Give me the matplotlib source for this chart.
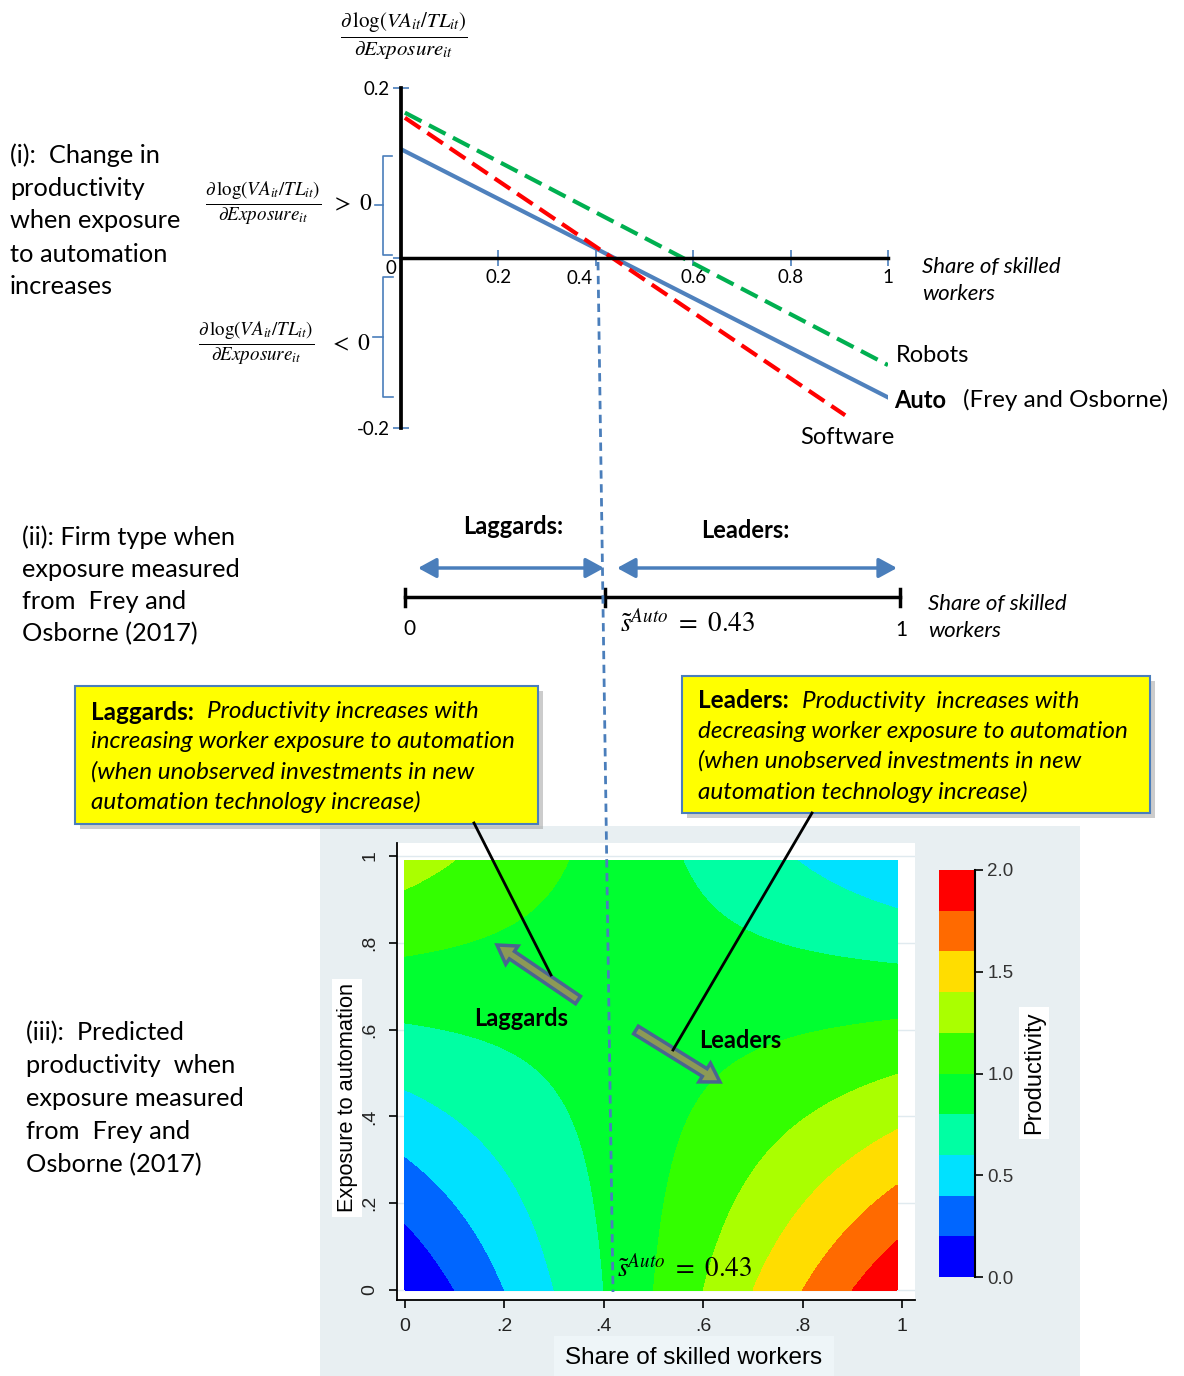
import numpy as np
import matplotlib.pyplot as plt
from matplotlib.patches import Rectangle, FancyArrow

W, H = 1184, 1376
plt.rcParams['mathtext.fontset'] = 'stix'
body = 'Lato'
arial = 'Liberation Sans'

# panel (i): effect of exposure on productivity vs share of skilled workers
auto_x = [0.0, 1.0]
auto_y = [0.128, -0.164]
robots_x = [0.008, 1.0]
robots_y = [0.171, -0.126]
software_x = [0.008, 0.912]
software_y = [0.165, -0.185]
p1_xticks = [0.2, 0.4, 0.6, 0.8, 1.0]
p1_xticklabels = ['0.2', '', '0.6', '0.8', '1']
p1_yticks = [-0.2, 0.0, 0.2]
p1_yticklabels = ['-0.2', '', '0.2']

# panel (iii): predicted productivity surface (linear model with interaction)
coef_const = 0.0
coef_skill = 2.0
coef_expo = 1.3
coef_inter = -2.9
prod_levels = [0.0, 0.2, 0.4, 0.6, 0.8, 1.0, 1.2, 1.4, 1.6, 1.8, 2.0]
prod_colors = ['#0000ff', '#0066ff', '#00e1ff', '#00ffa3', '#00ff30',
               '#33ff00', '#aaff00', '#ffdd00', '#ff6a00', '#ff0000']
cbar_ticks = [0.0, 0.5, 1.0, 1.5, 2.0]
cbar_ticklabels = ['0.0', '0.5', '1.0', '1.5', '2.0']
p3_ticks = [0, 0.2, 0.4, 0.6, 0.8, 1.0]
p3_ticklabels = ['0', '.2', '.4', '.6', '.8', '1']

frac = r'$\frac{\partial\,\log(VA_{it}/TL_{it})}{\partial Exposure_{it}}$'
s_label = r'$\tilde{s}^{Auto}\ =\ 0.43$'


def box(l, t, r, b):
    return [l / W, 1 - b / H, (r - l) / W, (b - t) / H]


fig = plt.figure(figsize=(W / 100, H / 100), dpi=100)

# background layer (pixel coords)
bg = fig.add_axes([0, 0, 1, 1], zorder=-5)
bg.set_xlim(0, W)
bg.set_ylim(H, 0)
bg.axis('off')
bg.add_patch(Rectangle((320, 826), 760, 550, fc='#e8eff2', ec='none'))

# ---- panel (i)
ax1 = fig.add_axes(box(401, 88, 888, 428))
ax1.set_xlim(0, 1)
ax1.set_ylim(-0.2, 0.2)
ax1.patch.set_alpha(0)
ax1.plot(auto_x, auto_y, color='#4f81bd', lw=3)
ax1.plot(robots_x, robots_y, color='#00b050', lw=3, ls=(0, (4.5, 2)))
ax1.plot(software_x, software_y, color='#ff0000', lw=3, ls=(0, (4.5, 2)))
for s in ['top', 'right']:
    ax1.spines[s].set_visible(False)
ax1.spines['bottom'].set_position(('data', 0))
ax1.spines['left'].set_linewidth(2.7)
ax1.spines['bottom'].set_linewidth(2.5)
ax1.set_xticks(p1_xticks, p1_xticklabels, fontfamily=body, fontsize=13.5)
ax1.set_yticks(p1_yticks, p1_yticklabels, fontfamily=body, fontsize=13.5)
ax1.tick_params(direction='inout', length=12, width=1.2, color='#4a7ebb', pad=2)

# ---- panel (iii) contour
ax3 = fig.add_axes(box(396.5, 843, 914.5, 1300))
ax3.set_xlim(-0.017, 1.025)
ax3.set_ylim(-0.023, 1.03)
sg = np.linspace(0, 0.99, 400)
eg = np.linspace(0, 0.99, 400)
S, E = np.meshgrid(sg, eg)
Z = coef_const + coef_skill * S + coef_expo * E + coef_inter * S * E
cf = ax3.contourf(S, E, Z, levels=prod_levels, colors=prod_colors)
for s in ['top', 'right']:
    ax3.spines[s].set_visible(False)
for s in ['left', 'bottom']:
    ax3.spines[s].set_linewidth(1.3)
ax3.set_axisbelow(True)
ax3.yaxis.grid(True, color='#e0eaef', lw=1)
ax3.set_xticks(p3_ticks, p3_ticklabels, fontfamily=arial, fontsize=14, color='#222')
ax3.set_yticks(p3_ticks, p3_ticklabels, fontfamily=arial, fontsize=14, color='#222',
               rotation=90, va='center')
ax3.tick_params(length=6, width=1.2, pad=7)

cax = fig.add_axes(box(939, 870, 975, 1277))
cb = fig.colorbar(cf, cax=cax, ticks=cbar_ticks)
cb.outline.set_visible(False)
cax.set_yticklabels(cbar_ticklabels, fontfamily=arial, fontsize=13.5, color='#333')
cax.tick_params(length=6, width=1.2, pad=3)
cax.axvline(1, color='black', lw=1.5, clip_on=False)

# ---- overlay (pixel coords)
ov = fig.add_axes([0, 0, 1, 1], zorder=10)
ov.set_xlim(0, W)
ov.set_ylim(H, 0)
ov.axis('off')


def lines(x, y0, dy, texts, **kw):
    for i, t in enumerate(texts):
        ov.text(x, y0 + i * dy, t, va='center_baseline', **kw)


# panel (i) texts
ov.text(404, 36, frac, fontsize=21.5, ha='center', va='center')
ov.text(263, 203, frac, fontsize=19.5, ha='center', va='center')
ov.text(331, 203, r'$>\ 0$', fontsize=17, ha='left', va='center')
ov.text(256, 343, frac, fontsize=19.5, ha='center', va='center')
ov.text(329, 343, r'$<\ 0$', fontsize=17, ha='left', va='center')
blue = '#4a7ebb'
ov.plot([392, 383, 383, 392], [156, 156, 255, 255], color=blue, lw=1.2)
ov.plot([375, 383], [205, 205], color=blue, lw=1.2)
ov.plot([393, 383, 383, 393], [277, 277, 397, 397], color=blue, lw=1.2)
ov.plot([373, 383], [337, 337], color=blue, lw=1.2)
ov.text(391, 268, '0', fontfamily=body, fontsize=13.5, ha='center', va='center')
ov.text(580, 279, '0.4', fontfamily=body, fontsize=13.5, ha='center', va='center')
lines(10, 153, 33, ['(i):  Change in', 'productivity', 'when exposure',
                    'to automation', 'increases'], fontfamily=body, fontsize=18.3)
lines(922, 265, 27, ['Share of skilled', 'workers'], fontfamily=body,
      fontsize=16, style='italic')
ov.text(896, 355, 'Robots', fontfamily=body, fontsize=17, va='center')
ov.text(894, 400, 'Auto', fontfamily=body, fontsize=17, va='center', weight='bold')
ov.text(963, 400, '(Frey and Osborne)', fontfamily=body, fontsize=17.5, va='center')
ov.text(800, 437, 'Software', fontfamily=body, fontsize=17, va='center')

# panel (ii)
ov.plot([405, 900], [597, 597], color='black', lw=2.5)
for xp in [405, 605, 900]:
    ov.plot([xp, xp], [589, 606], color='black', lw=2.5)
for x0, x1 in [(418, 604), (617, 897)]:
    ov.annotate('', xy=(x0, 568), xytext=(x1, 568),
                arrowprops=dict(arrowstyle='<|-|>,head_length=0.55,head_width=0.3',
                                color=blue, lw=2.5, shrinkA=0, shrinkB=0,
                                mutation_scale=20))
ov.text(513, 527, 'Laggards:', fontfamily=body, fontsize=17, weight='bold',
        ha='center', va='center')
ov.text(745, 530, 'Leaders:', fontfamily=body, fontsize=17, weight='bold',
        ha='center', va='center')
ov.text(409, 629, '0', fontfamily=body, fontsize=15, ha='center', va='center')
ov.text(901, 630, '1', fontfamily=body, fontsize=15, ha='center', va='center')
ov.text(620, 623, s_label, fontsize=19.5, ha='left', va='center')
lines(928, 602, 27, ['Share of skilled', 'workers'], fontfamily=body,
      fontsize=16, style='italic')
lines(22, 535, 32.3, ['(ii): Firm type when', 'exposure measured',
                      'from  Frey and', 'Osborne (2017)'], fontfamily=body, fontsize=18.3)

# vertical threshold line
ov.plot([598, 613], [262, 1292], color=blue, lw=2, ls=(0, (3, 2)))

# callout boxes
ov.add_patch(Rectangle((80, 691), 463, 138, fc='#9a9a9a', ec='none', alpha=0.5))
ov.add_patch(Rectangle((75, 686), 463, 138, fc='#ffff00', ec=blue, lw=1.5))
ov.add_patch(Rectangle((687, 681), 468, 137, fc='#9a9a9a', ec='none', alpha=0.5))
ov.add_patch(Rectangle((682, 676), 468, 137, fc='#ffff00', ec=blue, lw=1.5))
ov.text(91, 710, 'Laggards:', fontfamily=body, fontsize=17.5, weight='bold', va='center_baseline')
ov.text(207, 710, 'Productivity increases with', fontfamily=body, fontsize=17.5,
        style='italic', va='center_baseline')
lines(91, 740, 30, ['increasing worker exposure to automation',
                    '(when unobserved investments in new',
                    'automation technology increase)'],
      fontfamily=body, fontsize=17.5, style='italic')
ov.text(698, 699, 'Leaders:', fontfamily=body, fontsize=17.5, weight='bold', va='center_baseline')
ov.text(802, 699, 'Productivity  increases with', fontfamily=body, fontsize=17.5,
        style='italic', va='center_baseline')
lines(698, 729, 30.3, ['decreasing worker exposure to automation',
                       '(when unobserved investments in new',
                       'automation technology increase)'],
      fontfamily=body, fontsize=17.5, style='italic')
ov.plot([474, 551], [823, 975], color='black', lw=2)
ov.plot([812, 673], [813, 1050], color='black', lw=2)

# arrows inside contour
ov.add_patch(FancyArrow(578, 1000, -81, -55, width=9, head_width=22, head_length=18,
                        length_includes_head=True, fc='#8c9a56', ec='#4a6590', lw=2.5))
ov.add_patch(FancyArrow(636, 1030, 84, 52, width=9, head_width=22, head_length=18,
                        length_includes_head=True, fc='#8c9a56', ec='#4a6590', lw=2.5))
ov.text(521, 1018, 'Laggards', fontfamily=body, fontsize=17, weight='bold',
        ha='center', va='center')
ov.text(740, 1041, 'Leaders', fontfamily=body, fontsize=17, weight='bold',
        ha='center', va='center')
ov.text(617, 1268, s_label, fontsize=19.5, ha='left', va='center')

# axis labels of panel (iii)
ov.text(347, 1098, 'Exposure to automation', fontfamily=arial, fontsize=15.7,
        rotation=90, ha='center', va='center',
        bbox=dict(fc='white', ec='none', pad=3))
ov.text(694, 1358, 'Share of skilled workers', fontfamily=arial, fontsize=17.5,
        ha='center', va='center', bbox=dict(fc='#eef5f8', ec='none', pad=8))
ov.text(1034, 1073, 'Productivity', fontfamily=arial, fontsize=17,
        rotation=90, ha='center', va='center',
        bbox=dict(fc='white', ec='none', pad=3))
lines(26, 1031, 32.8, ['(iii):  Predicted', 'productivity  when', 'exposure measured',
                       'from  Frey and', 'Osborne (2017)'], fontfamily=body, fontsize=18.3)

fig.savefig('out.png', dpi=100)
